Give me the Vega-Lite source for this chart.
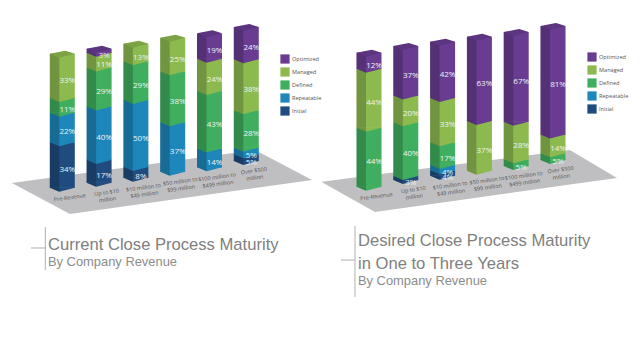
{"$schema":"https://vega.github.io/schema/vega-lite/v6.json","padding":0,"spacing":0,"background":"white","config":{"view":{"stroke":null},"concat":{"spacing":0}},"resolve":{"legend":{"fill":"independent"},"scale":{"fill":"independent"}},"datasets":{"current":[
{"revenue":"Pre-Revenue","level":"Floor","rank":0,"pct":124.1},{"revenue":"Pre-Revenue","level":"Initial","rank":1,"pct":34},{"revenue":"Pre-Revenue","level":"Repeatable","rank":2,"pct":22},{"revenue":"Pre-Revenue","level":"Defined","rank":3,"pct":11},{"revenue":"Pre-Revenue","level":"Managed","rank":4,"pct":33},
{"revenue":"Up to $10\nmillion","level":"Floor","rank":0,"pct":127.8},{"revenue":"Up to $10\nmillion","level":"Initial","rank":1,"pct":17},{"revenue":"Up to $10\nmillion","level":"Repeatable","rank":2,"pct":40},{"revenue":"Up to $10\nmillion","level":"Defined","rank":3,"pct":29},{"revenue":"Up to $10\nmillion","level":"Managed","rank":4,"pct":11},{"revenue":"Up to $10\nmillion","level":"Optimized","rank":5,"pct":3},
{"revenue":"$10 million to\n$49 million","level":"Floor","rank":0,"pct":131.5},{"revenue":"$10 million to\n$49 million","level":"Initial","rank":1,"pct":8},{"revenue":"$10 million to\n$49 million","level":"Repeatable","rank":2,"pct":50},{"revenue":"$10 million to\n$49 million","level":"Defined","rank":3,"pct":29},{"revenue":"$10 million to\n$49 million","level":"Managed","rank":4,"pct":13},
{"revenue":"$50 million to\n$99 million","level":"Floor","rank":0,"pct":136},{"revenue":"$50 million to\n$99 million","level":"Repeatable","rank":2,"pct":37},{"revenue":"$50 million to\n$99 million","level":"Defined","rank":3,"pct":38},{"revenue":"$50 million to\n$99 million","level":"Managed","rank":4,"pct":25},
{"revenue":"$100 million to\n$499 million","level":"Floor","rank":0,"pct":139.3},{"revenue":"$100 million to\n$499 million","level":"Repeatable","rank":2,"pct":14},{"revenue":"$100 million to\n$499 million","level":"Defined","rank":3,"pct":43},{"revenue":"$100 million to\n$499 million","level":"Managed","rank":4,"pct":24},{"revenue":"$100 million to\n$499 million","level":"Optimized","rank":5,"pct":19},
{"revenue":"Over $500\nmillion","level":"Floor","rank":0,"pct":144},{"revenue":"Over $500\nmillion","level":"Initial","rank":1,"pct":5},{"revenue":"Over $500\nmillion","level":"Repeatable","rank":2,"pct":5},{"revenue":"Over $500\nmillion","level":"Defined","rank":3,"pct":28},{"revenue":"Over $500\nmillion","level":"Managed","rank":4,"pct":38},{"revenue":"Over $500\nmillion","level":"Optimized","rank":5,"pct":24}],
"desired":[
{"revenue":"Pre-Revenue","level":"Floor","rank":0,"pct":124.9},{"revenue":"Pre-Revenue","level":"Defined","rank":3,"pct":44},{"revenue":"Pre-Revenue","level":"Managed","rank":4,"pct":44},{"revenue":"Pre-Revenue","level":"Optimized","rank":5,"pct":12},
{"revenue":"Up to $10\nmillion","level":"Floor","rank":0,"pct":129.9},{"revenue":"Up to $10\nmillion","level":"Initial","rank":1,"pct":3},{"revenue":"Up to $10\nmillion","level":"Defined","rank":3,"pct":40},{"revenue":"Up to $10\nmillion","level":"Managed","rank":4,"pct":20},{"revenue":"Up to $10\nmillion","level":"Optimized","rank":5,"pct":37},
{"revenue":"$10 million to\n$49 million","level":"Floor","rank":0,"pct":133.1},{"revenue":"$10 million to\n$49 million","level":"Initial","rank":1,"pct":4},{"revenue":"$10 million to\n$49 million","level":"Repeatable","rank":2,"pct":4},{"revenue":"$10 million to\n$49 million","level":"Defined","rank":3,"pct":17},{"revenue":"$10 million to\n$49 million","level":"Managed","rank":4,"pct":33},{"revenue":"$10 million to\n$49 million","level":"Optimized","rank":5,"pct":42},
{"revenue":"$50 million to\n$99 million","level":"Floor","rank":0,"pct":136.8},{"revenue":"$50 million to\n$99 million","level":"Managed","rank":4,"pct":37},{"revenue":"$50 million to\n$99 million","level":"Optimized","rank":5,"pct":63},
{"revenue":"$100 million to\n$499 million","level":"Floor","rank":0,"pct":140.3},{"revenue":"$100 million to\n$499 million","level":"Defined","rank":3,"pct":5},{"revenue":"$100 million to\n$499 million","level":"Managed","rank":4,"pct":28},{"revenue":"$100 million to\n$499 million","level":"Optimized","rank":5,"pct":67},
{"revenue":"Over $500\nmillion","level":"Floor","rank":0,"pct":144.8},{"revenue":"Over $500\nmillion","level":"Defined","rank":3,"pct":5},{"revenue":"Over $500\nmillion","level":"Managed","rank":4,"pct":14},{"revenue":"Over $500\nmillion","level":"Optimized","rank":5,"pct":81}]},
"hconcat":[
{"width":322,"height":222,"title":{"text":"Current Close Process Maturity","subtitle":"By Company Revenue","orient":"bottom","anchor":"start","frame":"group","dx":48,"offset":-43,"font":"Liberation Sans","fontSize":16.6,"fontWeight":"normal","color":"#808080","lineHeight":23,"subtitleFont":"Liberation Sans","subtitleFontSize":12.9,"subtitleColor":"#8c8c8c","subtitlePadding":3},
"resolve":{"scale":{"x":"independent"}},"layer":[
{"data":{"values":[{"i":-1.29,"a":127.6,"b":127.6},{"i":0.29,"a":133.5,"b":104.5},{"i":5.32,"a":152.2,"b":123.9},{"i":6.87,"a":129.9,"b":129.9}]},"mark":{"type":"area","color":"#bfbfc2","interpolate":"linear"},"encoding":{"x":{"field":"i","type":"quantitative","axis":null,"scale":{"domain":[-1.611,7.138],"nice":false,"zero":false}},"y":{"field":"a","type":"quantitative","axis":null,"scale":{"domain":[98.5,264.2],"nice":false,"zero":false}},"y2":{"field":"b"}}},
{"data":{"values":[{"i":-0.38,"i2":-0.38,"a":94.8,"b":62.7},{"i":-0.77,"i2":-0.38,"a":79.1,"b":79.1}]},"mark":{"type":"rule","color":"#b0b0b0","strokeWidth":1},"encoding":{"x":{"field":"i","type":"quantitative","axis":null,"scale":{"domain":[-1.611,7.138],"nice":false,"zero":false}},"x2":{"field":"i2"},"y":{"field":"a","type":"quantitative","axis":null,"scale":{"domain":[98.5,264.2],"nice":false,"zero":false}},"y2":{"field":"b"}}},
{"data":{"name":"current"},"transform":[{"stack":"pct","groupby":["revenue"],"sort":[{"field":"rank"}],"as":["y0","y1"]}],
"encoding":{"x":{"field":"revenue","type":"nominal","sort":null,"axis":null,"scale":{"type":"point","padding":0,"range":[59.3,243.3]}}},
"layer":[
{"transform":[{"filter":"datum.level!=='Floor'"}],"mark":{"type":"bar","width":25,"xOffset":3},"encoding":{"y":{"field":"y0","type":"quantitative","axis":null,"scale":{"domain":[98.5,264.2],"nice":false,"zero":false}},"y2":{"field":"y1"},"fill":{"field":"level","type":"nominal","scale":{"domain":["Optimized","Managed","Defined","Repeatable","Initial"],"range":["#693c92","#8cba4f","#3fae5e","#1d86bb","#1f4b7e"]},"legend":{"title":null,"orient":"none","legendX":280,"legendY":54,"symbolType":"square","symbolSize":85,"symbolStrokeWidth":0,"labelFont":"Open Sans","labelFontSize":5.6,"labelColor":"#555555","rowPadding":3,"labelOffset":2}}}},
{"transform":[{"filter":"datum.level!=='Floor'"}],"mark":{"type":"point","filled":true,"opacity":1,"size":400,"strokeWidth":0,"shape":"M-0.95,-0.05L0,-0.05L1.55,-0.05L1.55,0L0,0.4L-0.95,0Z"},"encoding":{"y":{"field":"y0","type":"quantitative"},"fill":{"field":"level","type":"nominal","legend":null}}},
{"transform":[{"filter":"datum.level!=='Floor'"}],"mark":{"type":"bar","width":9.5,"xOffset":-4.75,"color":"black","opacity":0.2},"encoding":{"y":{"field":"y0","type":"quantitative"},"y2":{"field":"y1"}}},
{"transform":[{"filter":"datum.level==='Floor'"}],"mark":{"type":"point","filled":true,"color":"black","opacity":0.2,"size":400,"strokeWidth":0,"shape":"M-0.95,0L0,0L0,0.4Z"},"encoding":{"y":{"field":"y1","type":"quantitative"}}},
{"transform":[{"joinaggregate":[{"op":"max","field":"y1","as":"top"}],"groupby":["revenue"]},{"filter":"datum.y1===datum.top"}],"mark":{"type":"point","filled":true,"opacity":1,"size":400,"strokeWidth":0,"shape":"M-0.95,0L0,0.4L1.55,0L0.6,-0.3Z"},"encoding":{"y":{"field":"y1","type":"quantitative"},"fill":{"field":"level","type":"nominal","legend":null}}},
{"transform":[{"joinaggregate":[{"op":"max","field":"y1","as":"top"}],"groupby":["revenue"]},{"filter":"datum.y1===datum.top"}],"mark":{"type":"point","filled":true,"color":"black","opacity":0.12,"size":400,"strokeWidth":0,"shape":"M-0.95,0L0,0.4L1.55,0L0.6,-0.3Z"},"encoding":{"y":{"field":"y1","type":"quantitative"}}},
{"mark":{"type":"text","font":"Open Sans","fontSize":8,"color":"#eef3f3","dx":8,"dy":5,"text":{"expr":"datum.pct+'%'"}},"encoding":{"y":{"field":"pct","type":"quantitative","stack":"zero","bandPosition":0.5},"detail":{"field":"level"},"order":{"field":"rank"},"opacity":{"condition":{"test":"datum.level==='Floor'","value":0},"value":1}}},
{"transform":[{"filter":"datum.level==='Floor'"}],"mark":{"type":"text","font":"Open Sans","fontSize":5.5,"color":"#555555","angle":-8,"baseline":"top","lineBreak":"\n","lineHeight":7,"dx":9,"dy":9},"encoding":{"y":{"field":"y1","type":"quantitative"},"text":{"field":"revenue"}}}
]}]},
{"width":322,"height":222,"title":{"text":["Desired Close Process Maturity","in One to Three Years"],"subtitle":"By Company Revenue","orient":"bottom","anchor":"start","frame":"group","dx":36,"offset":-65,"font":"Liberation Sans","fontSize":16.6,"fontWeight":"normal","color":"#808080","lineHeight":23,"subtitleFont":"Liberation Sans","subtitleFontSize":12.9,"subtitleColor":"#8c8c8c","subtitlePadding":3},
"resolve":{"scale":{"x":"independent"}},"layer":[
{"data":{"values":[{"i":-1.196,"a":128.6,"b":128.2},{"i":0.245,"a":133.8,"b":106},{"i":5.54,"a":152.2,"b":126.4},{"i":6.82,"a":131.3,"b":131.3}]},"mark":{"type":"area","color":"#bfbfc2","interpolate":"linear"},"encoding":{"x":{"field":"i","type":"quantitative","axis":null,"scale":{"domain":[-1.196,7.554],"nice":false,"zero":false}},"y":{"field":"a","type":"quantitative","axis":null,"scale":{"domain":[98.5,264.2],"nice":false,"zero":false}},"y2":{"field":"b"}}},
{"data":{"values":[{"i":-0.3,"i2":-0.3,"a":95.5,"b":42.5},{"i":-0.68,"i2":-0.3,"a":70.1,"b":70.1}]},"mark":{"type":"rule","color":"#b0b0b0","strokeWidth":1},"encoding":{"x":{"field":"i","type":"quantitative","axis":null,"scale":{"domain":[-1.196,7.554],"nice":false,"zero":false}},"x2":{"field":"i2"},"y":{"field":"a","type":"quantitative","axis":null,"scale":{"domain":[98.5,264.2],"nice":false,"zero":false}},"y2":{"field":"b"}}},
{"data":{"name":"desired"},"transform":[{"stack":"pct","groupby":["revenue"],"sort":[{"field":"rank"}],"as":["y0","y1"]}],
"encoding":{"x":{"field":"revenue","type":"nominal","sort":null,"axis":null,"scale":{"type":"point","padding":0,"range":[44,228]}}},
"layer":[
{"transform":[{"filter":"datum.level!=='Floor'"}],"mark":{"type":"bar","width":25,"xOffset":3},"encoding":{"y":{"field":"y0","type":"quantitative","axis":null,"scale":{"domain":[98.5,264.2],"nice":false,"zero":false}},"y2":{"field":"y1"},"fill":{"field":"level","type":"nominal","scale":{"domain":["Optimized","Managed","Defined","Repeatable","Initial"],"range":["#693c92","#8cba4f","#3fae5e","#1d86bb","#1f4b7e"]},"legend":{"title":null,"orient":"none","legendX":265,"legendY":52,"symbolType":"square","symbolSize":85,"symbolStrokeWidth":0,"labelFont":"Open Sans","labelFontSize":5.6,"labelColor":"#555555","rowPadding":3,"labelOffset":2}}}},
{"transform":[{"filter":"datum.level!=='Floor'"}],"mark":{"type":"point","filled":true,"opacity":1,"size":400,"strokeWidth":0,"shape":"M-0.95,-0.05L0,-0.05L1.55,-0.05L1.55,0L0,0.4L-0.95,0Z"},"encoding":{"y":{"field":"y0","type":"quantitative"},"fill":{"field":"level","type":"nominal","legend":null}}},
{"transform":[{"filter":"datum.level!=='Floor'"}],"mark":{"type":"bar","width":9.5,"xOffset":-4.75,"color":"black","opacity":0.2},"encoding":{"y":{"field":"y0","type":"quantitative"},"y2":{"field":"y1"}}},
{"transform":[{"filter":"datum.level==='Floor'"}],"mark":{"type":"point","filled":true,"color":"black","opacity":0.2,"size":400,"strokeWidth":0,"shape":"M-0.95,0L0,0L0,0.4Z"},"encoding":{"y":{"field":"y1","type":"quantitative"}}},
{"transform":[{"joinaggregate":[{"op":"max","field":"y1","as":"top"}],"groupby":["revenue"]},{"filter":"datum.y1===datum.top"}],"mark":{"type":"point","filled":true,"opacity":1,"size":400,"strokeWidth":0,"shape":"M-0.95,0L0,0.4L1.55,0L0.6,-0.3Z"},"encoding":{"y":{"field":"y1","type":"quantitative"},"fill":{"field":"level","type":"nominal","legend":null}}},
{"transform":[{"joinaggregate":[{"op":"max","field":"y1","as":"top"}],"groupby":["revenue"]},{"filter":"datum.y1===datum.top"}],"mark":{"type":"point","filled":true,"color":"black","opacity":0.12,"size":400,"strokeWidth":0,"shape":"M-0.95,0L0,0.4L1.55,0L0.6,-0.3Z"},"encoding":{"y":{"field":"y1","type":"quantitative"}}},
{"mark":{"type":"text","font":"Open Sans","fontSize":8,"color":"#eef3f3","dx":8,"dy":5,"text":{"expr":"datum.pct+'%'"}},"encoding":{"y":{"field":"pct","type":"quantitative","stack":"zero","bandPosition":0.5},"detail":{"field":"level"},"order":{"field":"rank"},"opacity":{"condition":{"test":"datum.level==='Floor'","value":0},"value":1}}},
{"transform":[{"filter":"datum.level==='Floor'"}],"mark":{"type":"text","font":"Open Sans","fontSize":5.5,"color":"#555555","angle":-8,"baseline":"top","lineBreak":"\n","lineHeight":7,"dx":9,"dy":9},"encoding":{"y":{"field":"y1","type":"quantitative"},"text":{"field":"revenue"}}}
]}]}
]}
